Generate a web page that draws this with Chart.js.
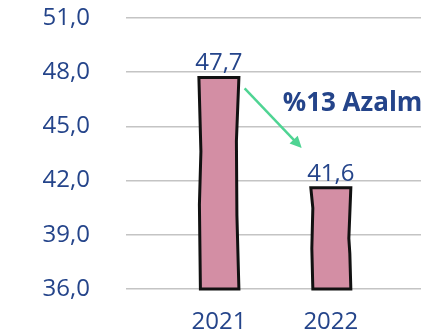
<!DOCTYPE html>
<html>
<head>
<meta charset="utf-8">
<script src="https://cdn.jsdelivr.net/npm/chart.js@4/dist/chart.umd.min.js"></script>
<style>
  html, body { margin:0; padding:0; background:#fff; overflow:hidden; }
  #wrap { position:relative; width:520px; height:335px; }
</style>
</head>
<body>
<div id="wrap"><canvas id="chart"></canvas></div>
<script>
/* Yıllık karşılaştırma — 2021 / 2022 */

const years   = ['2021', '2022'];
const values  = [47.7, 41.6];
const yTicks  = [36, 39, 42, 45, 48, 51];
const changeText = '%13 Azalma';

const NAVY  = '#24448a';
const PINK  = '#d38ea4';
const GREEN = '#4fd493';
const FONT  = '"Open Sans", sans-serif';

const fmtNum = v => v.toFixed(1).replace('.', ',');

// slightly uneven sides so the bars look hand drawn: [fraction of height, px inward]
const WOBBLE = [
  { left:[[0,0],[0.35,2],[0.6,0.5],[1,1.5]], right:[[0,0],[0.3,-2.5],[0.65,-2],[1,0]] },
  { left:[[0,0],[0.2,2],[0.6,1],[1,2]],      right:[[0,0],[0.5,-2],[0.65,-1],[1,0]] }
];

const sketchBars = {
  id: 'sketchBars',
  afterDatasetsDraw(chart) {
    const ctx = chart.ctx;
    const floor = chart.chartArea.bottom;
    chart.getDatasetMeta(0).data.forEach((el, i) => {
      const { x, y, base, width } = el.getProps(['x', 'y', 'base', 'width'], true);
      const bottom = Math.min(base, floor);
      const h = bottom - y, l = x - width / 2, r = x + width / 2;
      const w = WOBBLE[i % WOBBLE.length];
      ctx.save();
      ctx.beginPath();
      w.left.forEach(([f, d], k) => k ? ctx.lineTo(l + d, y + f * h) : ctx.moveTo(l + d, y + f * h));
      w.right.slice().reverse().forEach(([f, d]) => ctx.lineTo(r + d, y + f * h));
      ctx.closePath();
      ctx.fillStyle = PINK;
      ctx.fill();
      ctx.lineWidth = 3;
      ctx.lineJoin = 'miter';
      ctx.strokeStyle = '#111';
      ctx.stroke();

      ctx.fillStyle = NAVY;
      ctx.font = '24px ' + FONT;
      ctx.textAlign = 'center';
      ctx.textBaseline = 'bottom';
      ctx.fillText(fmtNum(values[i]), x, y - 2);
      ctx.restore();
    });
  }
};

// green arrow and the change note between the two bars
const changeNote = {
  id: 'changeNote',
  afterDraw(chart) {
    const { ctx, scales: { x, y } } = chart;
    const x0 = x.getPixelForValue(0.23), y0 = y.getPixelForValue(47.1);
    const x1 = x.getPixelForValue(0.74), y1 = y.getPixelForValue(43.8);
    const a = Math.atan2(y1 - y0, x1 - x0), head = 13;
    ctx.save();
    ctx.strokeStyle = GREEN;
    ctx.fillStyle = GREEN;
    ctx.lineWidth = 2.5;
    ctx.beginPath();
    ctx.moveTo(x0, y0);
    ctx.lineTo(x1 - Math.cos(a) * 8, y1 - Math.sin(a) * 8);
    ctx.stroke();
    ctx.beginPath();
    ctx.moveTo(x1, y1);
    ctx.lineTo(x1 - head * Math.cos(a - 0.45), y1 - head * Math.sin(a - 0.45));
    ctx.lineTo(x1 - head * Math.cos(a + 0.45), y1 - head * Math.sin(a + 0.45));
    ctx.closePath();
    ctx.fill();

    ctx.fillStyle = NAVY;
    ctx.font = 'bold 26px ' + FONT;
    ctx.textAlign = 'left';
    ctx.textBaseline = 'middle';
    ctx.fillText(changeText, x.getPixelForValue(0.57), y.getPixelForValue(46.25));
    ctx.restore();
  }
};

new Chart(document.getElementById('chart'), {
  type: 'bar',
  data: {
    datasets: [{
      data: values.map((v, i) => ({ x: i, y: v })),
      backgroundColor: 'transparent',
      borderWidth: 0,
      barThickness: 40
    }]
  },
  options: {
    responsive: true,
    maintainAspectRatio: false,
    animation: false,
    layout: { padding: { top: 18, right: 0, left: 0, bottom: 0 } },
    plugins: { legend: { display: false }, tooltip: { enabled: false } },
    scales: {
      x: {
        type: 'linear',
        min: -0.83,
        max: 2.69,
        offset: false,
        grid: { display: false },
        border: { display: false },
        afterBuildTicks: s => { s.ticks = years.map((_, i) => ({ value: i })); },
        afterFit: s => { s.height = 46; },
        ticks: { color: NAVY, font: { family: FONT, size: 24 }, padding: 11, maxRotation: 0,
                 callback: v => years[v] }
      },
      y: {
        min: 36,
        max: 51,
        // invisible tick marks push the labels away from the plot
        grid: { color: '#c4c4c4', lineWidth: 1.5, drawTicks: true, tickLength: 36, tickColor: 'transparent' },
        border: { display: false },
        afterBuildTicks: s => { s.ticks = yTicks.map(v => ({ value: v })); },
        afterFit: s => { s.width = 126; },
        ticks: { color: NAVY, font: { family: FONT, size: 24 }, padding: 0,
                 callback: v => fmtNum(v) }
      }
    }
  },
  plugins: [sketchBars, changeNote]
});
</script>
</body>
</html>
